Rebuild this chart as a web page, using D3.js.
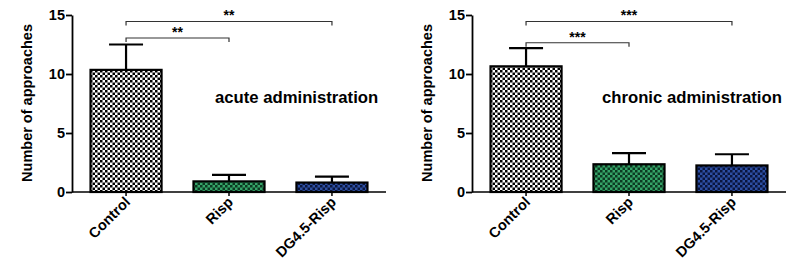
<!DOCTYPE html>
<html><head><meta charset="utf-8">
<script src="https://cdn.jsdelivr.net/npm/d3@7/dist/d3.min.js"></script>
<style>body{margin:0;background:#fff}svg{display:block}text{font-family:"Liberation Sans",Arial,sans-serif}</style>
</head><body><svg id="c" width="800" height="263"></svg>
<script>
const categories = ["Control", "Risp", "DG4.5-Risp"];
const acuteMeans = [10.35, 0.9, 0.8];
const acuteErrors = [12.5, 1.45, 1.3];
const chronicMeans = [10.65, 2.35, 2.25];
const chronicErrors = [12.2, 3.3, 3.2];
const yTicks = [0, 5, 10, 15];
const acuteSig = [{from: 0, to: 1, y: 13.05, label: "**"}, {from: 0, to: 2, y: 14.45, label: "**"}];
const chronicSig = [{from: 0, to: 1, y: 12.65, label: "***"}, {from: 0, to: 2, y: 14.45, label: "***"}];
const panelTitles = ["acute administration", "chronic administration"];
const yTitle = "Number of approaches";

const svg = d3.select("#c");
const defs = svg.append("defs");
const pats = [["pw", "#ffffff", "#000000"], ["pg", "#35a468", "#0d3a22"], ["pb", "#2d4fa3", "#0a163f"]];
pats.forEach(([id, light, dark]) => {
  const p = defs.append("pattern").attr("id", id).attr("patternUnits", "userSpaceOnUse")
    .attr("width", 5).attr("height", 5);
  p.append("rect").attr("width", 5).attr("height", 5).attr("fill", light);
  p.append("rect").attr("width", 2.5).attr("height", 2.5).attr("fill", dark);
  p.append("rect").attr("x", 2.5).attr("y", 2.5).attr("width", 2.5).attr("height", 2.5).attr("fill", dark);
});
const fills = ["url(#pw)", "url(#pg)", "url(#pb)"];

function panel(ox, means, errs, sigs, title, titleX) {
  const g = svg.append("g").attr("transform", `translate(${ox},0)`);
  const x = d3.scaleBand().domain(categories).range([72, 386]).paddingInner(0.31).paddingOuter(0.18);
  const y = d3.scaleLinear().domain([0, 15]).range([192, 15]);

  g.selectAll("rect.bar").data(categories).join("rect").attr("class", "bar")
    .attr("x", d => x(d)).attr("width", x.bandwidth())
    .attr("y", (d, i) => y(means[i])).attr("height", (d, i) => y(0) - y(means[i]))
    .attr("fill", (d, i) => fills[i]).attr("stroke", "#000").attr("stroke-width", 2.2);

  const cx = d => x(d) + x.bandwidth() / 2;
  g.selectAll("line.err").data(categories).join("line").attr("class", "err")
    .attr("x1", cx).attr("x2", cx).attr("y1", (d, i) => y(means[i])).attr("y2", (d, i) => y(errs[i]))
    .attr("stroke", "#000").attr("stroke-width", 2.2);
  g.selectAll("line.cap").data(categories).join("line").attr("class", "cap")
    .attr("x1", d => cx(d) - 17).attr("x2", d => cx(d) + 17).attr("y1", (d, i) => y(errs[i])).attr("y2", (d, i) => y(errs[i]))
    .attr("stroke", "#000").attr("stroke-width", 2.2);

  const ya = g.append("g").attr("transform", "translate(72,0)")
    .call(d3.axisLeft(y).tickValues(yTicks).tickSize(6).tickSizeOuter(0));
  ya.select(".domain").attr("stroke-width", 1.8);
  ya.selectAll(".tick line").attr("stroke-width", 1.8);
  ya.selectAll(".tick text").attr("font-size", 14.5).attr("font-weight", "bold").attr("fill", "#000").attr("x", -7);

  const xa = g.append("g").attr("transform", "translate(0,192)")
    .call(d3.axisBottom(x).tickSize(4).tickSizeOuter(0));
  xa.select(".domain").attr("stroke-width", 1.5).attr("d", "M72,0H386");
  xa.selectAll(".tick line").attr("stroke-width", 1.5);
  xa.selectAll(".tick text").attr("font-size", 14.5).attr("font-weight", "bold").attr("fill", "#000")
    .attr("text-anchor", "end").attr("dy", 0).attr("y", 0)
    .attr("transform", "translate(5,11) rotate(-45)");

  g.append("text").attr("transform", "translate(32,103) rotate(-90)").attr("text-anchor", "middle")
    .attr("font-size", 14.5).attr("font-weight", "bold").attr("fill", "#000").text(yTitle);

  sigs.forEach(s => {
    const x1 = cx(categories[s.from]), x2 = cx(categories[s.to]);
    const yy = y(s.y);
    g.append("path").attr("d", `M${x1},${yy + 4}V${yy}H${x2}V${yy + 4}`)
      .attr("fill", "none").attr("stroke", "#333").attr("stroke-width", 1.2);
    g.append("text").attr("x", (x1 + x2) / 2).attr("y", yy - 1).attr("text-anchor", "middle")
      .attr("font-size", 14).attr("font-weight", "bold").attr("fill", "#000").text(s.label);
  });

  g.append("text").attr("x", titleX).attr("y", 103).attr("font-size", 16.7).attr("font-weight", "bold")
    .attr("fill", "#000").text(title);
}

panel(0, acuteMeans, acuteErrors, acuteSig, panelTitles[0], 215);
panel(400, chronicMeans, chronicErrors, chronicSig, panelTitles[1], 202);
</script></body></html>
